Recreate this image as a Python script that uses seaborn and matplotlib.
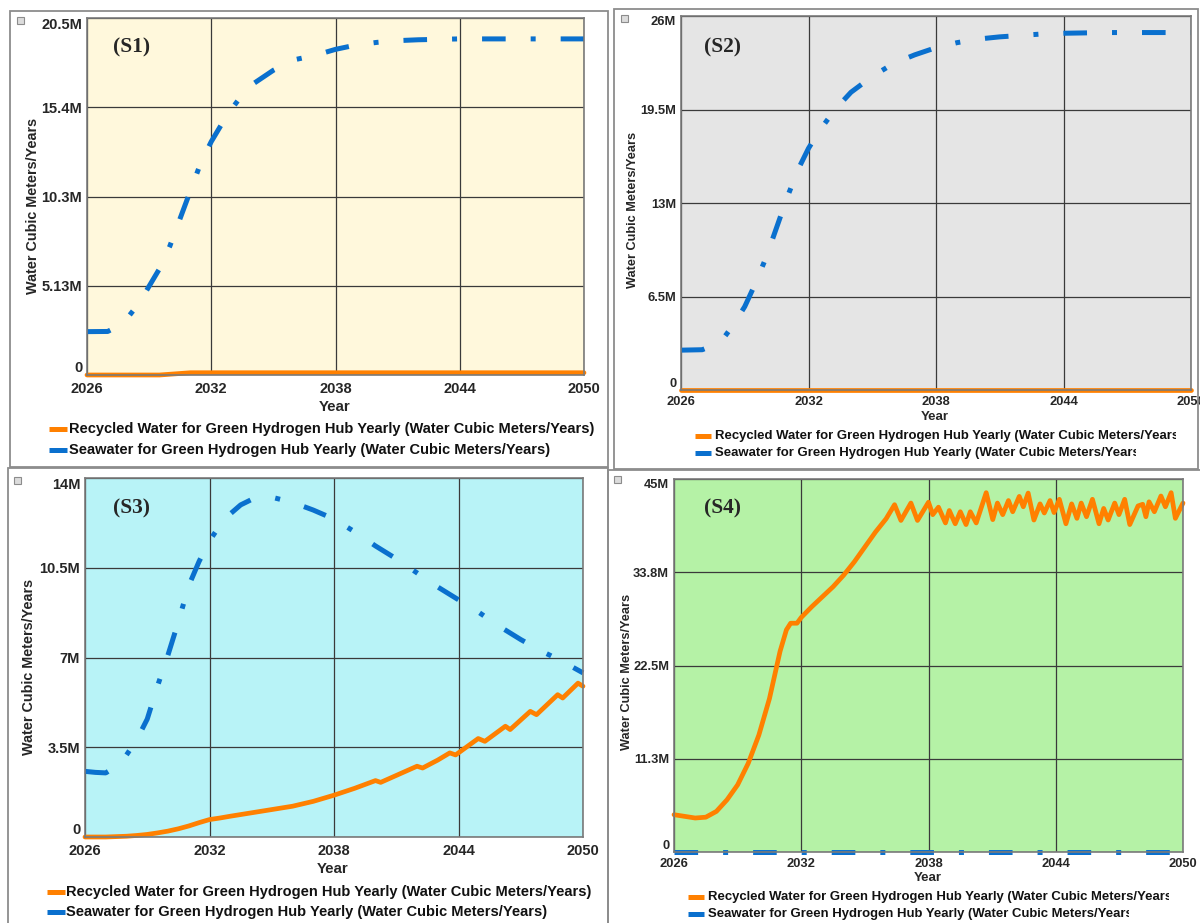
import matplotlib
matplotlib.use('Agg')
import matplotlib.pyplot as plt
import seaborn as sns
from matplotlib.lines import Line2D
from matplotlib.patches import Rectangle
from matplotlib.transforms import Bbox

sns.set_style('white')
plt.rcParams['font.family'] = ['Liberation Sans', 'DejaVu Sans']
plt.rcParams['lines.scale_dashes'] = False

# ---------------- data (values in millions of m3/year) ----------------
year_ticks = [2026, 2032, 2038, 2044, 2050]
year_labels = ['2026', '2032', '2038', '2044', '2050']

legend_recycled = 'Recycled Water for Green Hydrogen Hub Yearly (Water Cubic Meters/Years)'
legend_sea = 'Seawater for Green Hydrogen Hub Yearly (Water Cubic Meters/Years)'

# S1
s1_rec_years = [2026, 2029.5, 2031, 2050]
s1_rec_vals = [0.0, 0.0, 0.13, 0.13]
s1_sea_years = [2026, 2027, 2027.5, 2028, 2028.5, 2029, 2029.5, 2030, 2030.5, 2031, 2031.5,
                2032, 2032.5, 2033, 2033.5, 2034, 2035, 2036, 2037, 2038, 2039, 2040,
                2041, 2042, 2044, 2046, 2050]
s1_sea_vals = [2.49, 2.5, 2.8, 3.35, 4.1, 5.1, 6.1, 7.4, 9.0, 10.6, 12.2,
               13.4, 14.4, 15.3, 16.1, 16.7, 17.5, 18.1, 18.35, 18.7, 18.95, 19.1,
               19.2, 19.25, 19.3, 19.3, 19.3]
s1_yticks = [0, 5.125, 10.25, 15.375, 20.5]
s1_ylabels = ['0', '5.13M', '10.3M', '15.4M', '20.5M']

# S2
s2_rec_years = [2026, 2050]
s2_rec_vals = [0.0, 0.0]
s2_sea_years = [2026, 2027, 2027.5, 2028, 2028.5, 2029, 2029.5, 2030, 2030.5, 2031, 2031.5,
                2032, 2032.5, 2033, 2033.5, 2034, 2035, 2036, 2037, 2038, 2039, 2040,
                2041, 2042, 2043, 2044, 2046, 2050]
s2_sea_vals = [2.77, 2.8, 3.1, 3.6, 4.6, 5.8, 7.4, 9.2, 11.3, 13.4, 15.3,
               16.8, 18.0, 19.0, 19.9, 20.7, 21.8, 22.7, 23.3, 23.8, 24.15, 24.4,
               24.55, 24.65, 24.75, 24.8, 24.85, 24.85]
s2_yticks = [0, 6.5, 13, 19.5, 26]
s2_ylabels = ['0', '6.5M', '13M', '19.5M', '26M']

# S3
s3_rec_years = [2026, 2027, 2028, 2028.5, 2029, 2029.5, 2030, 2030.5, 2031, 2031.5, 2032,
                2032.5, 2033, 2034, 2035, 2036, 2037, 2038, 2039, 2040.0, 2040.25, 2041,
                2042.0, 2042.27, 2043, 2043.58, 2043.86, 2044.95, 2045.27, 2046.26, 2046.49,
                2047.46, 2047.76, 2048.78, 2049.02, 2049.76, 2050]
s3_rec_vals = [0.0, 0.0, 0.03, 0.06, 0.1, 0.16, 0.23, 0.32, 0.43, 0.56, 0.68,
               0.74, 0.81, 0.94, 1.07, 1.2, 1.39, 1.63, 1.9, 2.2, 2.13, 2.4,
               2.76, 2.69, 3.0, 3.28, 3.2, 3.84, 3.73, 4.32, 4.19,
               4.9, 4.77, 5.55, 5.42, 6.0, 5.88]
s3_sea_years = [2026, 2026.5, 2027, 2027.5, 2028, 2028.5, 2029, 2029.5, 2030, 2030.5, 2031,
                2031.5, 2032, 2032.5, 2033, 2033.5, 2034, 2035, 2036, 2037, 2038, 2039,
                2040, 2041, 2042, 2043, 2044, 2045, 2046, 2047, 2048, 2049, 2050]
s3_sea_vals = [2.56, 2.52, 2.5, 2.75, 3.2, 3.8, 4.6, 5.9, 7.1, 8.4, 9.8,
               10.75, 11.55, 12.15, 12.6, 12.95, 13.15, 13.25, 13.05, 12.75, 12.4, 11.9,
               11.35, 10.85, 10.3, 9.75, 9.25, 8.75, 8.2, 7.7, 7.25, 6.85, 6.4]
s3_yticks = [0, 3.5, 7, 10.5, 14]
s3_ylabels = ['0', '3.5M', '7M', '10.5M', '14M']

# S4
s4_rec_years = [2026, 2026.5, 2027, 2027.5, 2028, 2028.5, 2029, 2029.5, 2030, 2030.5, 2031,
                2031.3, 2031.5, 2031.8, 2032, 2032.5, 2033, 2033.5, 2034, 2034.5, 2035,
                2035.5, 2036,
                2036.4, 2036.7, 2037.17, 2037.48, 2038.0, 2038.2, 2038.47, 2038.8, 2038.98,
                2039.26, 2039.5, 2039.77, 2039.97, 2040.25, 2040.72, 2041.03, 2041.25,
                2041.5, 2041.77, 2041.97, 2042.28, 2042.47, 2042.7, 2042.97, 2043.26,
                2043.46, 2043.73, 2043.92, 2044.17, 2044.48, 2044.75, 2045.0, 2045.2,
                2045.45, 2045.73, 2046.04, 2046.26, 2046.47, 2046.78, 2046.98, 2047.25,
                2047.49, 2047.88, 2048.1, 2048.25, 2048.4, 2048.65, 2048.96, 2049.17,
                2049.44, 2049.64, 2050]
s4_rec_vals = [4.5, 4.3, 4.1, 4.2, 4.9, 6.3, 8.1, 10.7, 14.1, 18.5, 24.2,
               26.8, 27.6, 27.6, 28.3, 29.6, 30.8, 32.0, 33.4, 35.0, 36.8,
               38.6, 40.2,
               41.9, 40.0, 42.1, 40.0, 42.2, 40.7, 41.6, 39.7, 41.2,
               39.6, 41.05, 39.5, 41.05, 39.7, 43.35, 40.1, 42.1,
               40.7, 42.4, 41.05, 42.9, 41.65, 43.3, 40.05, 42.0,
               40.9, 42.4, 40.95, 42.55, 39.6, 42.0, 40.25, 42.1,
               40.45, 42.55, 39.6, 41.45, 40.05, 42.1, 40.7, 42.55,
               39.5, 41.75, 41.95, 40.45, 42.25, 41.05, 42.95, 41.65,
               43.35, 40.25, 42.1]
s4_sea_years = [2026, 2050]
s4_sea_vals = [0.0, 0.0]
s4_yticks = [0, 11.25, 22.5, 33.75, 45]
s4_ylabels = ['0', '11.3M', '22.5M', '33.8M', '45M']

# ---------------- styling ----------------
ORANGE = '#FF8000'
BLUE = '#0A70CE'
SEA_DASH = (0, (17, 18, 3.6, 18))
W, H = 1200, 923


def fx(px):
    return px / W


def fy(py):
    return 1 - py / H


panels = [
    dict(tag='(S1)', rec=(s1_rec_years, s1_rec_vals), sea=(s1_sea_years, s1_sea_vals),
         yt=s1_yticks, yl=s1_ylabels, box=(87, 18, 584, 375), bg='#FFF8DC', fs=1.0,
         legfs=10.55, frame=(10, 11, 608, 467), icon=(17, 17), ylab=(33, 206),
         xlab=(335, 407), leg=(49, 69, 429, 450), tagpos=(113, 47), clip=False),
    dict(tag='(S2)', rec=(s2_rec_years, s2_rec_vals), sea=(s2_sea_years, s2_sea_vals),
         yt=s2_yticks, yl=s2_ylabels, box=(681, 16, 1191, 390), bg='#E5E5E5', fs=0.88,
         legfs=9.45, frame=(614, 9, 1198, 469), icon=(621, 15), ylab=(633, 210),
         xlab=(935, 417), leg=(695, 715, 436, 453), tagpos=(704, 47), clip=True),
    dict(tag='(S3)', rec=(s3_rec_years, s3_rec_vals), sea=(s3_sea_years, s3_sea_vals),
         yt=s3_yticks, yl=s3_ylabels, box=(85, 478, 583, 837), bg='#B8F3F7', fs=1.0,
         legfs=10.55, frame=(8, 468, 608, 930), icon=(14, 477), ylab=(29, 667),
         xlab=(333, 869), leg=(47, 66, 892, 912), tagpos=(113, 508), clip=False),
    dict(tag='(S4)', rec=(s4_rec_years, s4_rec_vals), sea=(s4_sea_years, s4_sea_vals),
         yt=s4_yticks, yl=s4_ylabels, box=(674, 479, 1183, 852), bg='#B5F2A6', fs=0.88,
         legfs=9.45, frame=(608, 470, 1205, 930), icon=(614, 476), ylab=(627, 672),
         xlab=(928, 878), leg=(688, 708, 897, 914), tagpos=(704, 508), clip=True),
]

fig = plt.figure(figsize=(12, 9.23), dpi=100)
fig.patch.set_facecolor('white')

clip_texts = []
for p in panels:
    x0, y0, x1, y1 = p['box']
    ax = fig.add_axes([fx(x0), fy(y1), (x1 - x0) / W, (y1 - y0) / H])
    ax.set_facecolor(p['bg'])
    fs = p['fs']

    sns.lineplot(x=p['rec'][0], y=p['rec'][1], ax=ax, color=ORANGE, lw=3.4,
                 estimator=None, errorbar=None)
    ln = ax.lines[-1]
    ln.set_clip_on(False)
    ln.set_solid_joinstyle('round')
    sns.lineplot(x=p['sea'][0], y=p['sea'][1], ax=ax, color=BLUE, lw=3.6,
                 estimator=None, errorbar=None)
    ln = ax.lines[-1]
    ln.set_linestyle(SEA_DASH)
    ln.set_dash_capstyle('butt')
    ln.set_clip_on(False)

    ax.set_xlim(2026, 2050)
    ax.set_ylim(p['yt'][0], p['yt'][-1])
    ax.set_xticks(year_ticks, year_labels)
    ax.set_yticks(p['yt'], p['yl'])
    ax.grid(True, color='#3a3a3a', lw=0.9)
    ax.set_axisbelow(True)
    for s in ax.spines.values():
        s.set_color('#7a7a7a')
        s.set_linewidth(1.2)
    ax.tick_params(axis='y', length=3, width=0.9, color='#3a3a3a', pad=0.5,
                   labelsize=10.5 * fs)
    ax.tick_params(axis='x', length=0, pad=5 * fs, labelsize=10.5 * fs)
    for lab in ax.get_xticklabels() + ax.get_yticklabels():
        lab.set_fontweight('bold')
    ticks = ax.yaxis.get_major_ticks()
    ticks[0].label1.set_va('bottom')
    ticks[-1].label1.set_va('top')

    ax.set_ylabel('Water Cubic Meters/Years', fontsize=10.4 * fs, fontweight='bold')
    ax.yaxis.set_label_coords(fx(p['ylab'][0]), fy(p['ylab'][1]), transform=fig.transFigure)
    ax.yaxis.label.set_va('center')
    ax.set_xlabel('Year', fontsize=10.8 * fs, fontweight='bold')
    ax.xaxis.set_label_coords(fx(p['xlab'][0]), fy(p['xlab'][1]), transform=fig.transFigure)
    ax.xaxis.label.set_va('center')

    ax.text(fx(p['tagpos'][0]), fy(p['tagpos'][1]), p['tag'], transform=fig.transFigure,
            family=['Liberation Serif', 'DejaVu Serif'], fontweight='bold', fontsize=15.5,
            ha='left', va='center')

    # frame and icon
    fx0, fy0, fx1, fy1 = p['frame']
    fig.add_artist(Rectangle((fx(fx0), fy(fy1)), (fx1 - fx0) / W, (fy1 - fy0) / H,
                             transform=fig.transFigure, fill=False, edgecolor='#8c8c8c',
                             lw=1.3))
    ix, iy = p['icon']
    fig.add_artist(Rectangle((fx(ix), fy(iy + 7)), 7 / W, 7 / H, transform=fig.transFigure,
                             facecolor='#dcdcdc', edgecolor='#8c8c8c', lw=0.8))

    # legend
    hx, tx, r1, r2 = p['leg']
    for (row, col, txt) in [(r1, ORANGE, legend_recycled), (r2, BLUE, legend_sea)]:
        fig.add_artist(Line2D([fx(hx), fx(hx + 18 * fs)], [fy(row), fy(row)],
                              transform=fig.transFigure, color=col, lw=3.6,
                              solid_capstyle='butt'))
        t = fig.text(fx(tx), fy(row), txt, fontsize=p['legfs'], fontweight='bold',
                     ha='left', va='center', color='#111111')
        if p['clip']:
            clip_texts.append(t)

fig.canvas.draw()
renderer = fig.canvas.get_renderer()
for t in clip_texts:
    bb = t.get_window_extent(renderer)
    t.set_clip_box(Bbox([[bb.x0 - 2, bb.y0 - 2], [bb.x1 - 8, bb.y1 + 2]]))
    t.set_clip_on(True)

fig.savefig('out.png', dpi=100, facecolor='white')
